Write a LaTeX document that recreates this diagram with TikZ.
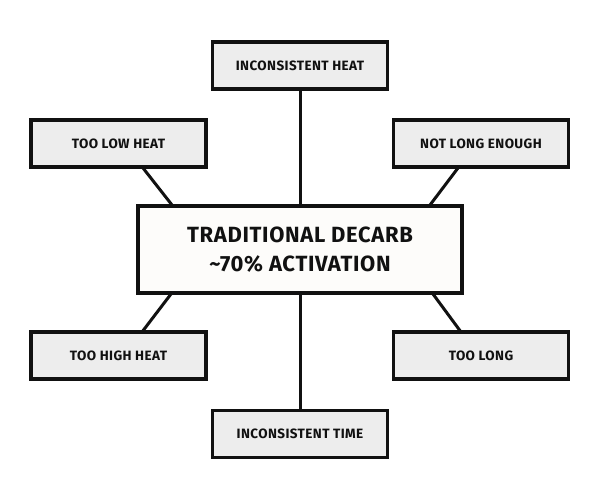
\documentclass[tikz,border=0pt]{standalone}
\usepackage{fontspec}
\setmainfont{Fira Sans}[LetterSpace=3]
\definecolor{boxfill}{HTML}{EDEDED}
\definecolor{centerfill}{HTML}{FDFCFA}
\definecolor{ink}{HTML}{111111}
\tikzset{
  side/.style={draw=ink, line width=3.5pt, fill=boxfill, minimum width=175pt, minimum height=47pt, inner sep=0pt, font=\fontsize{13.5}{14}\selectfont\bfseries, text=ink},
  hub/.style={draw=ink, line width=3.5pt, fill=centerfill, minimum width=324pt, minimum height=87pt, inner sep=0pt, align=center, font=\fontsize{22}{29}\selectfont\bfseries, text=ink},
  link/.style={draw=ink, line width=3pt}
}
\begin{document}
\begin{tikzpicture}[x=1pt,y=-1pt]
\useasboundingbox (0,0) rectangle (600,500);
\node[hub] (c) at (300,249.5) {TRADITIONAL DECARB\\\textasciitilde70\% ACTIVATION};
\node[side] (t) at (300,65.5) {INCONSISTENT HEAT};
\node[side] (b) at (300,434) {INCONSISTENT TIME};
\node[side] (tl) at (118.5,143.5) {TOO LOW HEAT};
\node[side] (tr) at (481,143.5) {NOT LONG ENOUGH};
\node[side] (bl) at (118.5,355.5) {TOO HIGH HEAT};
\node[side] (br) at (481,355.5) {TOO LONG};
\coordinate (ctl) at (172,205);
\coordinate (ctr) at (430,205);
\coordinate (cbl) at (171,294);
\coordinate (cbr) at (433,294);
\coordinate (ptl) at (143,168);
\coordinate (ptr) at (458,168);
\coordinate (pbl) at (142,332);
\coordinate (pbr) at (461,332);
\draw[link] (t.south) -- (c.north);
\draw[link] (c.south) -- (b.north);
\draw[link] (ptl) -- (ctl);
\draw[link] (ptr) -- (ctr);
\draw[link] (cbl) -- (pbl);
\draw[link] (cbr) -- (pbr);
\end{tikzpicture}
\end{document}
